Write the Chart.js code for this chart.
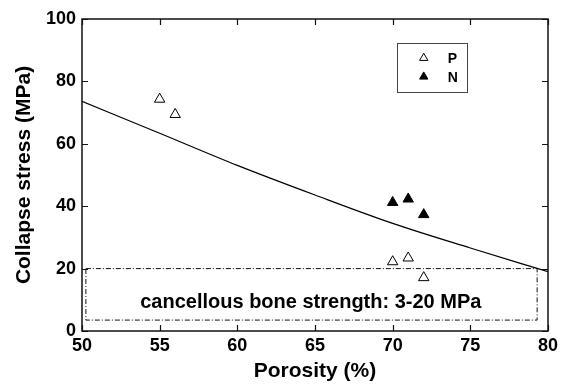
<!DOCTYPE html>
<html>
<head>
<meta charset="utf-8">
<script src="https://cdn.jsdelivr.net/npm/chart.js@4/dist/chart.umd.min.js"></script>
<style>
  html, body { margin: 0; padding: 0; background: #fff; }
  #wrap { width: 563px; height: 388px; }
</style>
</head>
<body>
<div id="wrap"><canvas id="c" width="563" height="388"></canvas></div>
<script>
// ---- data ----
const xTicks = [50, 55, 60, 65, 70, 75, 80];
const yTicks = [0, 20, 40, 60, 80, 100];

const pPorosity = [55, 56, 70, 71, 72];
const pStress   = [74.3, 69.4, 22.2, 23.4, 17.1];

const nPorosity = [70, 71, 72];
const nStress   = [41.2, 42.3, 37.3];

const fitPorosity = [50, 55, 60, 65, 70, 75, 80];
const fitStress   = [73.6, 63.4, 53.1, 43.6, 34.5, 26.6, 19.0];

const boneX = [50.25, 79.3, 79.3, 50.25, 50.25];
const boneY = [20, 20, 3.5, 3.5, 20];
const boneLabel = 'cancellous bone strength: 3-20 MPa';

const legendLabels = ['P', 'N'];

const FONT = '"Liberation Sans", Arial, Helvetica, sans-serif';

function pts(xs, ys) { return xs.map((x, i) => ({ x: x, y: ys[i] })); }

const framePlugin = {
  id: 'frame',
  afterDatasetsDraw(chart) {
    const ctx = chart.ctx;
    const a = chart.chartArea;
    const xs = chart.scales.x, ys = chart.scales.y;
    ctx.save();
    // annotation text
    ctx.fillStyle = '#000';
    ctx.font = 'bold 20px ' + FONT;
    ctx.textAlign = 'center';
    ctx.textBaseline = 'alphabetic';
    ctx.fillText(boneLabel, xs.getPixelForValue(64.73), ys.getPixelForValue(7.4));

    // frame
    ctx.strokeStyle = '#111';
    ctx.lineWidth = 1.5;
    ctx.strokeRect(a.left, a.top, a.right - a.left, a.bottom - a.top);
    // inward ticks
    ctx.lineWidth = 1.2;
    const tl = 6;
    ctx.beginPath();
    xTicks.forEach(v => {
      const px = Math.round(xs.getPixelForValue(v)) + 0.5;
      ctx.moveTo(px, a.bottom); ctx.lineTo(px, a.bottom - tl);
      ctx.moveTo(px, a.top); ctx.lineTo(px, a.top + tl);
    });
    yTicks.forEach(v => {
      const py = Math.round(ys.getPixelForValue(v)) + 0.5;
      ctx.moveTo(a.left, py); ctx.lineTo(a.left + tl, py);
      ctx.moveTo(a.right, py); ctx.lineTo(a.right - tl, py);
    });
    ctx.stroke();

    // legend box
    const lx = xs.getPixelForValue(70.3), rx = xs.getPixelForValue(74.8);
    const ty = ys.getPixelForValue(92.3), by = ys.getPixelForValue(76.5);
    ctx.strokeStyle = '#444';
    ctx.lineWidth = 1;
    ctx.strokeRect(Math.round(lx) + 0.5, Math.round(ty) + 0.5, Math.round(rx - lx), Math.round(by - ty));
    const rows = [ys.getPixelForValue(87.5), ys.getPixelForValue(81.5)];
    const mx = xs.getPixelForValue(72.0);
    const r = 4.8;
    rows.forEach((yy, i) => {
      ctx.beginPath();
      ctx.moveTo(mx, yy - r);
      ctx.lineTo(mx + r * 0.866, yy + r * 0.5);
      ctx.lineTo(mx - r * 0.866, yy + r * 0.5);
      ctx.closePath();
      if (i === 1) { ctx.fillStyle = '#000'; ctx.fill(); }
      ctx.strokeStyle = '#000'; ctx.lineWidth = 1; ctx.stroke();
      ctx.fillStyle = '#000';
      ctx.font = 'bold 14px ' + FONT;
      ctx.textAlign = 'left';
      ctx.textBaseline = 'middle';
      ctx.fillText(legendLabels[i], xs.getPixelForValue(73.55), yy + 1);
    });
    ctx.restore();
  }
};

new Chart(document.getElementById('c'), {
  type: 'scatter',
  data: {
    datasets: [
      {
        label: 'fit',
        data: pts(fitPorosity, fitStress),
        showLine: true,
        borderColor: '#000',
        borderWidth: 1.2,
        pointRadius: 0,
        cubicInterpolationMode: 'monotone',
        fill: false
      },
      {
        label: 'bone',
        data: pts(boneX, boneY),
        showLine: true,
        borderColor: '#111',
        borderWidth: 1,
        borderDash: [5, 2, 1, 2],
        pointRadius: 0,
        tension: 0,
        fill: false
      },
      {
        label: legendLabels[0],
        data: pts(pPorosity, pStress),
        pointStyle: 'triangle',
        pointRadius: 6,
        pointBackgroundColor: '#fff',
        pointBorderColor: '#000',
        pointBorderWidth: 1,
        showLine: false
      },
      {
        label: legendLabels[1],
        data: pts(nPorosity, nStress),
        pointStyle: 'triangle',
        pointRadius: 6,
        pointBackgroundColor: '#000',
        pointBorderColor: '#000',
        pointBorderWidth: 1,
        showLine: false
      }
    ]
  },
  options: {
    responsive: false,
    animation: false,
    devicePixelRatio: 1,
    layout: { padding: { left: 0, right: 15, top: 19, bottom: 0 } },
    plugins: { legend: { display: false }, tooltip: { enabled: false } },
    scales: {
      x: {
        type: 'linear',
        min: 50, max: 80,
        afterBuildTicks(s) { s.ticks = xTicks.map(v => ({ value: v })); },
        afterFit(s) { s.height = 57; },
        grid: { display: false, drawTicks: false },
        border: { display: false },
        ticks: { color: '#000', padding: 4, font: { family: FONT, size: 18, weight: 'bold' } },
        title: {
          display: true, text: 'Porosity (%)', color: '#000',
          font: { family: FONT, size: 21, weight: 'bold' },
          padding: { top: 0, bottom: 4.4 }
        }
      },
      y: {
        type: 'linear',
        min: 0, max: 100,
        afterBuildTicks(s) { s.ticks = yTicks.map(v => ({ value: v })); },
        afterFit(s) { s.width = 82; },
        grid: { display: false, drawTicks: false },
        border: { display: false },
        ticks: { color: '#000', padding: 6, font: { family: FONT, size: 18, weight: 'bold' } },
        title: {
          display: true, text: 'Collapse stress (MPa)', color: '#000',
          font: { family: FONT, size: 21, weight: 'bold' },
          padding: { top: 11.5, bottom: 0 }
        }
      }
    }
  },
  plugins: [framePlugin]
});
</script>
</body>
</html>
